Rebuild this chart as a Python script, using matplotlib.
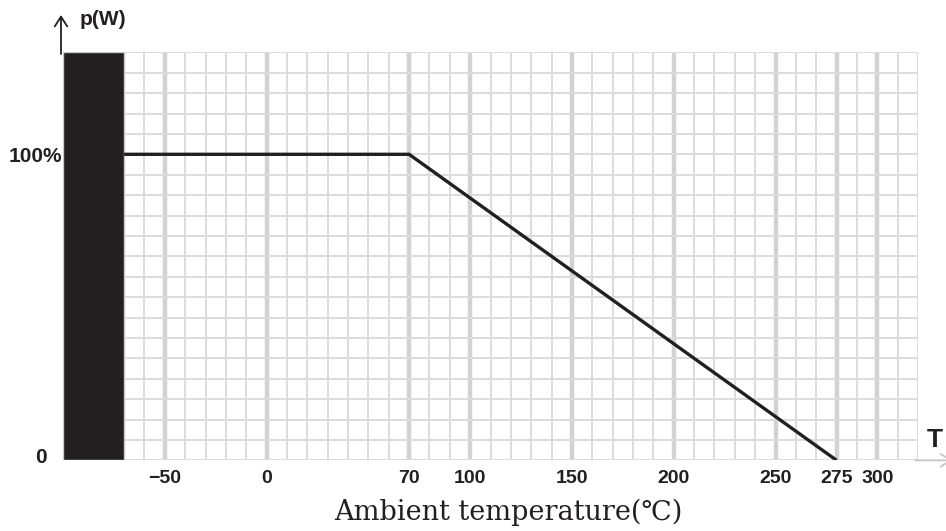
import numpy as np
import matplotlib
matplotlib.use("Agg")
import matplotlib.pyplot as plt
from matplotlib import transforms

# ---- data ----
curve_temp = [-70, 70, 275]          # deg C
curve_power = [100, 100, 0]          # % of rated power
dead_zone = (-100, -70)              # black block on the left
tick_temps = [-50, 0, 70, 100, 150, 200, 250, 275, 300]
tick_labels = ["\u221250", "0", "70", "100", "150", "200", "250", "275", "300"]

# the printed grid is uniform in cells, but the labels 275/300 are squeezed in
scale_temp = [-200, 250, 275, 300, 400]
scale_cell = [-10, 35, 38, 40, 50]

INK = "#231f20"
GRID = "#dcdcdc"
GRID_MAJOR = "#d2d2d2"
W, H = 946, 531


def fwd(t):
    return np.interp(t, scale_temp, scale_cell)


def inv(c):
    return np.interp(c, scale_cell, scale_temp)


fig = plt.figure(figsize=(W / 100, H / 100), dpi=100)
ax = fig.add_axes([63 / W, 1 - 460.3 / H, (918 - 63) / W, (460.3 - 52.3) / H])
ax.set_xscale("function", functions=(fwd, inv))
ax.set_xlim(-100, 320)
ax.set_ylim(0, 20 * 100 / 15)

# grid: one cell = 10 deg (in cell space) and 100/15 % vertically
ax.set_xticks(inv(np.arange(0, 43)), minor=True)
ax.set_yticks(np.arange(0, 21) * 100 / 15, minor=True)
ax.set_xticks(tick_temps, tick_labels)
ax.set_yticks([])
ax.grid(which="minor", color=GRID, lw=1.4, zorder=0)
ax.grid(which="major", axis="x", color=GRID_MAJOR, lw=3.2, zorder=0)
ax.set_axisbelow(True)
ax.tick_params(which="both", length=0)
ax.tick_params(axis="x", pad=7, labelsize=14, labelcolor=INK)
for lb in ax.get_xticklabels():
    lb.set_fontfamily("Liberation Sans")
    lb.set_fontweight("bold")
for s in ax.spines.values():
    s.set_visible(False)

ax.axvspan(*dead_zone, facecolor=INK, edgecolor="#c8c8c8", lw=1.0, zorder=2)
ax.plot(curve_temp, curve_power, color=INK, lw=2.4, solid_joinstyle="miter",
        solid_capstyle="butt", zorder=3)

# y labels
lab = dict(fontfamily="Liberation Sans", fontweight="bold", fontsize=15, color=INK)
ax.text(-100, 100, "100%", ha="right", va="center",
        transform=transforms.offset_copy(ax.transData, fig, x=-1, y=-2.5, units="dots"), **lab)
ax.text(-100, 0, "0", ha="right", va="center",
        transform=transforms.offset_copy(ax.transData, fig, x=-16, y=2.5, units="dots"), **lab)

# axis arrows
ax.annotate("", xy=(61, H - 15), xytext=(61, H - 54), xycoords="figure pixels",
            textcoords="figure pixels",
            arrowprops=dict(arrowstyle="->,head_length=0.7,head_width=0.45", color=INK, lw=1.3,
                            shrinkA=0, shrinkB=0))
ax.annotate("", xy=(953, H - 460.3), xytext=(915, H - 460.3), xycoords="figure pixels",
            textcoords="figure pixels",
            arrowprops=dict(arrowstyle="->,head_length=0.75,head_width=0.45", color="#c8c8c8", lw=1.4,
                            shrinkA=0, shrinkB=0))
fig.text(80 / W, 1 - 19.5 / H, "p(W)", ha="left", va="center", **dict(lab, fontsize=15))
fig.text(935 / W, 1 - 440 / H, "T", ha="center", va="center", **dict(lab, fontsize=19))

fig.text(508 / W, 1 - 520 / H, "Ambient temperature(\u2103)", ha="center", va="baseline",
         fontsize=19.5, color=INK, fontweight="light", family=["DejaVu Serif", "DejaVu Sans"])

fig.savefig("out.png", dpi=100)
